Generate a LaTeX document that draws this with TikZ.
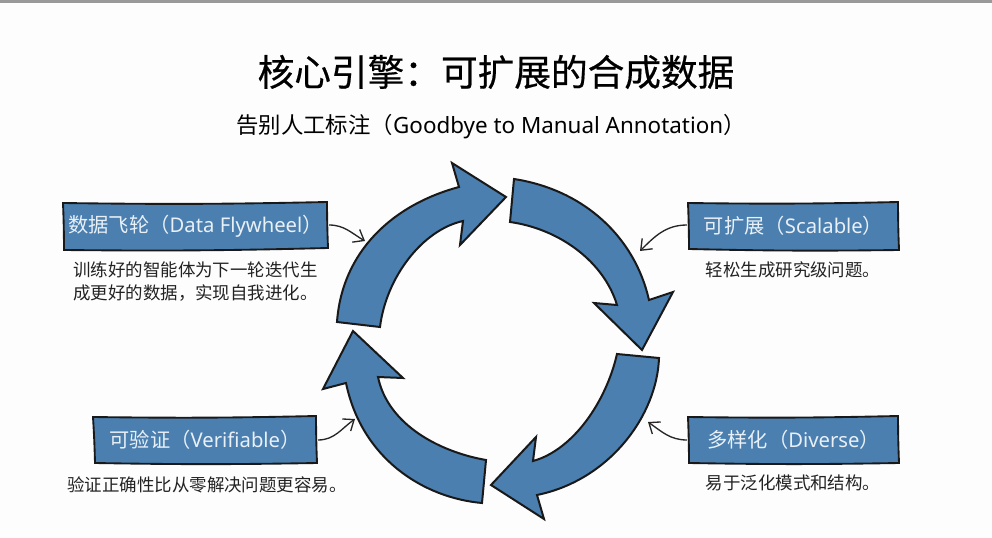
\documentclass[tikz,border=0pt]{standalone}
\usepackage{fontspec}
\setmainfont{Noto Sans CJK SC}
\newfontfamily\latinfont{Noto Sans}
\newfontfamily\titlefont[FakeBold=0.5]{Noto Sans CJK SC}
\usetikzlibrary{arrows.meta}
\definecolor{wheelBlue}{HTML}{4A7FB0}
\definecolor{pageGray}{HTML}{FDFDFD}
\definecolor{boxText}{HTML}{E9F0F6}
\definecolor{bodyText}{HTML}{222222}

\begin{document}
\begin{tikzpicture}[x = 0.75pt, y = -0.75pt]
	\tikzstyle{wheelStyle}=[draw = black!90, line width = 1.5pt, line join = miter, fill = wheelBlue]
	\tikzstyle{boxStyle}=[draw = black!90, line width = 1.4pt, fill = wheelBlue]
	\tikzstyle{labelStyle}=[inner sep = 0pt, text = boxText, font = \fontsize{15.2}{18}\selectfont]
	\tikzstyle{bodyStyle}=[inner sep = 0pt, align = center, text = bodyText, font = \fontsize{13.1}{17.25}\selectfont]
	\tikzstyle{pointerStyle}=[draw = black!85, line width = 1pt, -{Straight Barb[length = 7pt, width = 11pt]}]
	\useasboundingbox (0, 0) rectangle (992, 538);
	\fill[pageGray] (0, 0) rectangle (992, 538);
	\fill[black!40] (0, 0) rectangle (992, 3);
	\node[inner sep = 0pt, font = \fontsize{27.5}{30}\selectfont\titlefont] (title) at (496, 72) {核心引擎：可扩展的合成数据};
	\node[inner sep = 0pt, font = \fontsize{16.8}{20}\selectfont] (subtitle) at (491, 127) {告别人工标注（{\latinfont Goodbye to Manual Annotation}）};
	\draw[wheelStyle] (514, 179) .. controls (585, 190) and (635, 238) .. (649, 300) -- (673, 292) -- (642, 350) -- (594, 303) -- (617, 305) .. controls (604, 262) and (560, 229) .. (510, 222) -- cycle;
	\draw[wheelStyle] (659, 358) .. controls (657, 415) and (610, 480) .. (537, 495) -- (544, 519) -- (491, 485) -- (536, 437) -- (533, 461) .. controls (573, 450) and (606, 402) .. (617, 354) -- cycle;
	\draw[wheelStyle] (482, 503) .. controls (425, 498) and (362, 460) .. (346, 383) -- (323, 389) -- (353, 331) -- (403, 378) -- (378, 377) .. controls (388, 425) and (440, 452) .. (486, 460) -- cycle;
	\draw[wheelStyle] (337, 322) .. controls (342, 252) and (392, 205) .. (459, 187) -- (452, 163) -- (506, 197) -- (460, 245) -- (463, 221) .. controls (422, 230) and (386, 278) .. (380, 327) -- cycle;
	\draw[boxStyle] (63, 203) to[bend right = 1] (327, 202) to[bend right = 1] (328, 248) to[bend left = 1] (64, 250) to[bend right = 1] cycle;
	\draw[boxStyle] (688, 203) to[bend right = 1] (898, 202) to[bend right = 1] (899, 250) to[bend left = 1] (689, 249) to[bend right = 1] cycle;
	\draw[boxStyle] (93, 417) to[bend right = 1] (316, 416) to[bend right = 1] (317, 463) to[bend left = 1] (95, 463) to[bend right = 1] cycle;
	\draw[boxStyle] (688, 417) to[bend right = 1] (898, 416) to[bend right = 1] (899, 463) to[bend left = 1] (689, 463) to[bend right = 1] cycle;
	\coordinate (flywheelTip) at (365, 241);
	\coordinate (scalableTip) at (640, 251);
	\coordinate (verifiableTip) at (355, 419);
	\coordinate (diverseTip) at (648, 422);
	\coordinate (flywheelOut) at (329, 225);
	\coordinate (scalableOut) at (687, 225);
	\coordinate (verifiableOut) at (318, 440);
	\coordinate (diverseOut) at (687, 440);
	\node[labelStyle] (flywheel) at (195.5, 226) {数据飞轮（{\latinfont Data Flywheel}）};
	\node[labelStyle] (scalable) at (793.5, 226) {可扩展（{\latinfont Scalable}）};
	\node[labelStyle] (verifiable) at (205, 440) {可验证（{\latinfont Verifiable}）};
	\node[labelStyle] (diverse) at (793.5, 440) {多样化（{\latinfont Diverse}）};
	\node[bodyStyle] (flywheelBody) at (195.5, 281.5) {训练好的智能体为下一轮迭代生\\成更好的数据，实现自我进化。};
	\node[bodyStyle] (scalableBody) at (793, 270) {轻松生成研究级问题。};
	\node[bodyStyle] (verifiableBody) at (207, 485) {验证正确性比从零解决问题更容易。};
	\node[bodyStyle] (diverseBody) at (793, 483) {易于泛化模式和结构。};
	\draw[pointerStyle] (flywheelOut) to[out = 0, in = 150] (flywheelTip);
	\draw[pointerStyle] (scalableOut) to[out = 180, in = 45] (scalableTip);
	\draw[pointerStyle] (verifiableOut) to[out = 0, in = 215] (verifiableTip);
	\draw[pointerStyle] (diverseOut) to[out = 180, in = -35] (diverseTip);
\end{tikzpicture}
\end{document}
